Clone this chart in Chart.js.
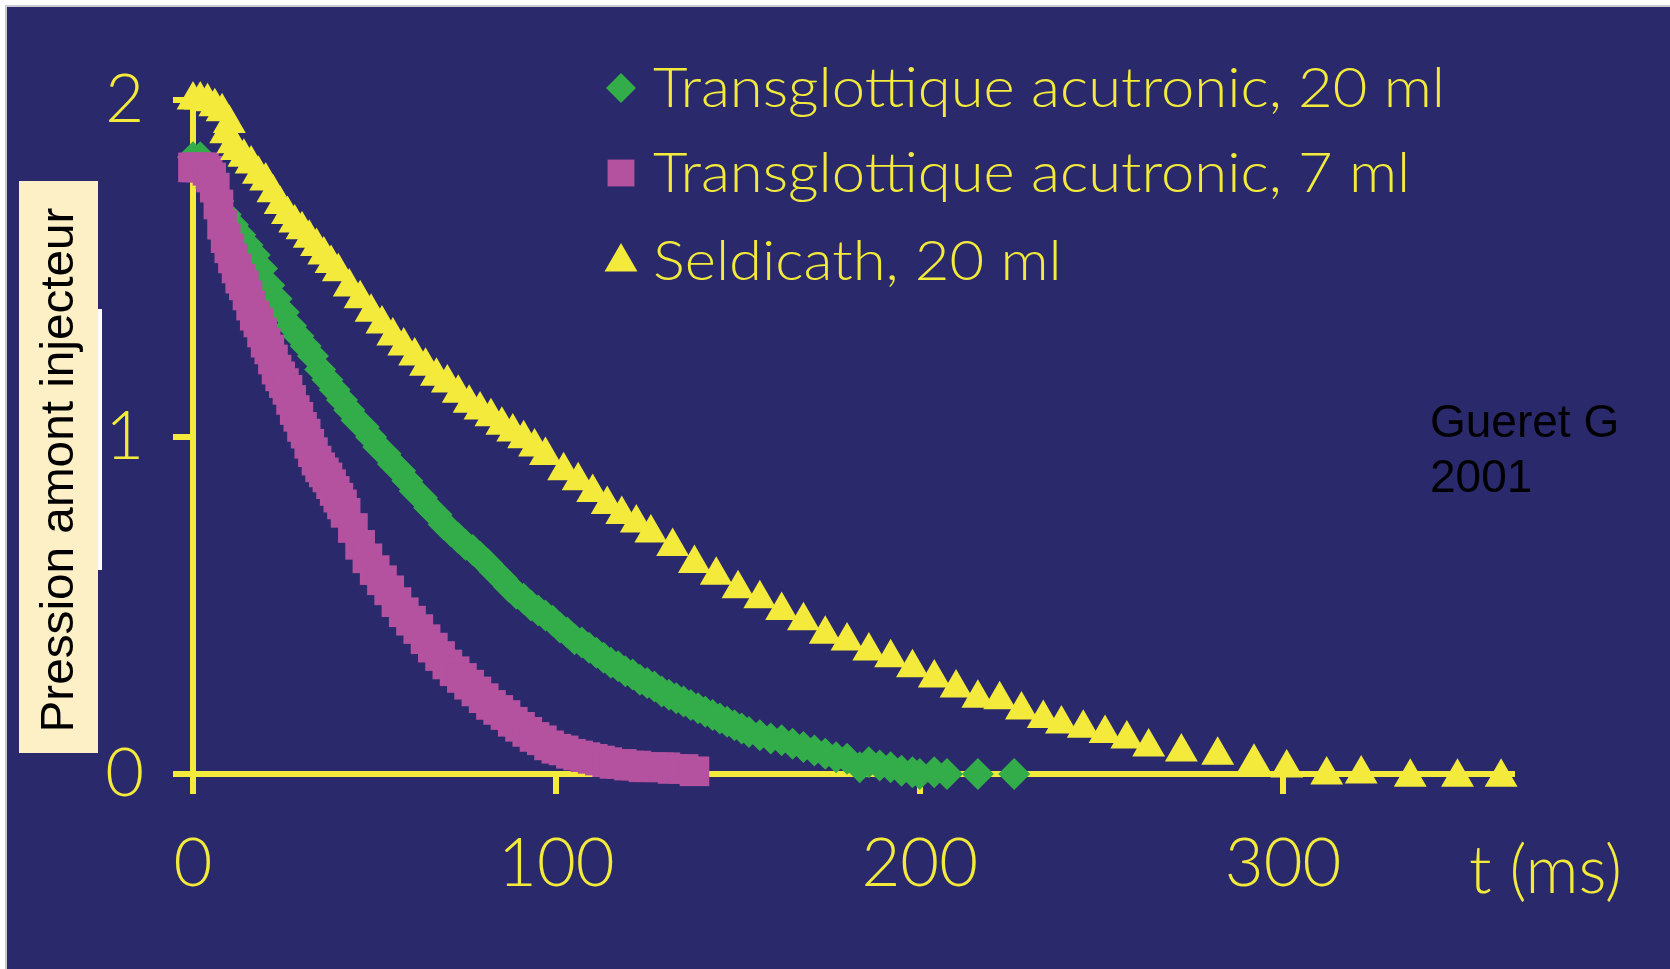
<!DOCTYPE html>
<html>
<head>
<meta charset="utf-8">
<title>Pression amont injecteur</title>
<script src="https://cdn.jsdelivr.net/npm/chart.js@4.4.1/dist/chart.umd.min.js"></script>
<style>
  html, body { margin: 0; padding: 0; background: #ffffff; }
  #wrap { width: 1670px; height: 969px; }
</style>
</head>
<body>
<div id="wrap"><canvas id="graph_pression" width="1670" height="969"></canvas></div>
<script>
// libellés des séries (légende)
const seriesLabels = ['Transglottique acutronic, 20 ml', 'Transglottique acutronic, 7 ml', 'Seldicath, 20 ml'];
const xTicks = [0, 100, 200, 300];
const yTicks = [0, 1, 2];

// Transglottique acutronic, 20 ml (losanges verts)
const tGreen = [0, 2, 4, 5, 7, 9, 11, 13, 15, 17, 19, 21, 23, 25, 27, 29, 31, 33, 35, 37, 39, 41, 43, 45,
  47, 49, 51, 53, 55, 57, 59, 61, 63, 65, 67, 69, 71, 73, 75, 77, 79, 81, 83, 85, 87, 89, 91, 93, 95, 97,
  99, 101, 103, 105, 107, 109, 111, 113, 115, 117, 119, 121, 123, 125, 127, 129, 131, 133, 135, 137, 139,
  141, 143, 145, 147, 149, 151, 153, 156, 159, 162, 165, 168, 171, 174, 177, 180, 183.5, 186, 189, 192,
  195, 198, 200, 204, 207.5, 216, 226];
const pGreen = [1.83, 1.83, 1.80, 1.74, 1.70, 1.66, 1.63, 1.60, 1.57, 1.54, 1.50, 1.45, 1.41, 1.37, 1.33,
  1.30, 1.27, 1.24, 1.20, 1.17, 1.14, 1.11, 1.08, 1.05, 1.03, 1.00, 0.97, 0.95, 0.92, 0.90, 0.87, 0.84,
  0.82, 0.79, 0.77, 0.74, 0.72, 0.70, 0.68, 0.665, 0.645, 0.625, 0.60, 0.58, 0.555, 0.535, 0.52, 0.50,
  0.485, 0.47, 0.455, 0.435, 0.42, 0.40, 0.39, 0.375, 0.36, 0.345, 0.33, 0.32, 0.305, 0.295, 0.28, 0.27,
  0.26, 0.245, 0.235, 0.225, 0.215, 0.205, 0.195, 0.185, 0.175, 0.165, 0.155, 0.145, 0.135, 0.125, 0.115,
  0.105, 0.10, 0.09, 0.08, 0.07, 0.06, 0.05, 0.045, 0.02, 0.035, 0.025, 0.02, 0.01, 0.005, 0.0, 0.005,
  0, 0, 0];

// Transglottique acutronic, 7 ml (carrés magenta)
const tMagenta = [0, 1, 2, 3, 4, 5, 6, 7, 8, 9, 10, 11, 12, 13, 14, 15, 16, 17, 18, 19, 20, 21, 22, 23, 24,
  25, 26, 27, 28, 29, 30, 31, 32, 33, 34, 35, 36, 37, 38, 39, 40, 41, 42, 44, 46, 48, 50, 52, 54, 56, 58,
  60, 62, 64, 66, 68, 70, 72, 74, 76, 78, 80, 82, 84, 86, 88, 90, 92, 94, 96, 98, 100, 102, 104, 106, 108,
  110, 112, 114, 116, 118, 120, 122, 124, 126, 128, 130, 132, 135, 138];
const pMagenta = [1.80, 1.80, 1.80, 1.80, 1.79, 1.77, 1.74, 1.69, 1.63, 1.59, 1.56, 1.53, 1.50, 1.47, 1.45,
  1.42, 1.39, 1.36, 1.34, 1.31, 1.28, 1.26, 1.23, 1.20, 1.18, 1.16, 1.14, 1.11, 1.08, 1.06, 1.03, 1.01,
  0.98, 0.955, 0.93, 0.91, 0.895, 0.88, 0.86, 0.84, 0.82, 0.80, 0.775, 0.73, 0.68, 0.64, 0.605, 0.575,
  0.545, 0.51, 0.48, 0.455, 0.43, 0.40, 0.375, 0.35, 0.325, 0.305, 0.285, 0.265, 0.245, 0.225, 0.205,
  0.19, 0.175, 0.155, 0.14, 0.125, 0.11, 0.10, 0.085, 0.075, 0.07, 0.06, 0.055, 0.05, 0.045, 0.04, 0.035,
  0.03, 0.03, 0.025, 0.025, 0.02, 0.02, 0.02, 0.02, 0.015, 0.015, 0.008];

// Seldicath, 20 ml (triangles jaunes)
const tYellow = [0, 2, 4, 6, 8, 9, 10, 11, 12, 14, 16, 18, 20, 22, 24, 26, 28, 30, 32, 34, 36, 38, 40, 43,
  46, 49, 52, 55, 58, 61, 64, 67, 70, 73, 76, 79, 82, 85, 88, 91, 94, 97, 102, 106, 110, 114, 118, 122,
  126, 132, 138, 144, 150, 156, 162, 168, 174, 180, 186, 192, 198, 204, 210, 216, 222, 228, 234, 239, 245,
  251, 257, 263, 272, 282, 292, 301, 312, 321.5, 335, 348, 360];
const pYellow = [2.00, 2.00, 1.995, 1.98, 1.965, 1.90, 1.93, 1.87, 1.85, 1.83, 1.81, 1.78, 1.76, 1.725,
  1.69, 1.66, 1.635, 1.615, 1.59, 1.565, 1.54, 1.515, 1.49, 1.445, 1.41, 1.37, 1.335, 1.30, 1.27, 1.24,
  1.21, 1.18, 1.16, 1.13, 1.10, 1.08, 1.06, 1.035, 1.015, 0.995, 0.97, 0.945, 0.90, 0.87, 0.835, 0.80,
  0.77, 0.745, 0.715, 0.675, 0.625, 0.59, 0.55, 0.52, 0.485, 0.455, 0.415, 0.395, 0.365, 0.345, 0.315,
  0.285, 0.255, 0.225, 0.22, 0.19, 0.165, 0.148, 0.136, 0.12, 0.104, 0.08, 0.065, 0.056, 0.035, 0.018,
  -0.003, 0.0, -0.01, -0.01, -0.01];

const NAVY = '#29296b';
const YELLOW = '#f3ea3b';
const GREEN = '#33ad49';
const MAGENTA = '#b4529f';

function pairs(ts, ps) {
  return ts.map(function (t, i) { return { x: t, y: ps[i] }; });
}

// fond bleu + cadre
const framePlugin = {
  id: 'frame',
  beforeDraw: function (chart) {
    const c = chart.ctx;
    c.save();
    c.fillStyle = '#ffffff';
    c.fillRect(0, 0, chart.width, chart.height);
    c.fillStyle = NAVY;
    c.fillRect(6, 6, chart.width - 6, chart.height - 6);
    c.strokeStyle = '#c9c9d3';
    c.lineWidth = 2;
    c.beginPath();
    c.moveTo(6, chart.height);
    c.lineTo(6, 6);
    c.lineTo(chart.width, 6);
    c.stroke();
    c.restore();
  }
};

// textes : titre axe y, légende, unité, auteur
const textPlugin = {
  id: 'texts',
  afterDraw: function (chart) {
    const c = chart.ctx;
    c.save();

    // encadré du titre vertical
    c.fillStyle = '#ffffff';
    c.fillRect(19, 309, 83, 261);
    c.fillStyle = '#fdf0c6';
    c.fillRect(19, 181, 79, 572);
    c.save();
    c.translate(73, 470);
    c.rotate(-Math.PI / 2);
    c.font = '46px "Liberation Sans", Arial, sans-serif';
    let w = c.measureText('Pression amont injecteur').width;
    c.scale(525 / w, 1);
    c.fillStyle = '#000000';
    c.textAlign = 'center';
    c.textBaseline = 'alphabetic';
    c.fillText('Pression amont injecteur', 0, 0);
    c.restore();

    // légende
    const rowsY = [88, 173, 262];
    const baseY = [107, 192, 280];
    c.font = '300 55px Lato, sans-serif';
    const sx = 792 / c.measureText(seriesLabels[0]).width;
    chart.data.datasets.forEach(function (ds, i) {
      c.fillStyle = ds.pointBackgroundColor;
      c.beginPath();
      Chart.helpers.drawPoint(c, {
        pointStyle: ds.pointStyle,
        radius: ds.legendRadius,
        rotation: 0,
        borderWidth: 0
      }, 621, rowsY[i]);
      c.save();
      c.translate(653, baseY[i]);
      c.scale(sx, 1);
      c.fillStyle = YELLOW;
      c.textAlign = 'left';
      c.textBaseline = 'alphabetic';
      c.fillText(ds.label, 0, 0);
      c.restore();
    });

    // unité de l'axe x
    c.save();
    c.font = '300 67px Lato, sans-serif';
    w = c.measureText('t (ms)').width;
    c.translate(1469, 893);
    c.scale(153 / w, 1);
    c.fillStyle = YELLOW;
    c.textAlign = 'left';
    c.fillText('t (ms)', 0, 0);
    c.restore();

    // auteur
    c.font = '46px "Liberation Sans", Arial, sans-serif';
    c.fillStyle = '#000000';
    c.textAlign = 'left';
    c.fillText('Gueret G', 1430, 437);
    c.fillText('2001', 1430, 492);

    c.restore();
  }
};

const ctx = document.getElementById('graph_pression');
const chart = new Chart(ctx, {
  type: 'scatter',
  data: {
    datasets: [
      {
        label: seriesLabels[0],
        data: pairs(tGreen, pGreen),
        pointStyle: 'rectRot',
        pointRadius: 16,
        legendRadius: 15,
        pointBackgroundColor: GREEN,
        pointBorderWidth: 0,
        order: 2,
        clip: false
      },
      {
        label: seriesLabels[1],
        data: pairs(tMagenta, pMagenta),
        pointStyle: 'rect',
        pointRadius: 21,
        legendRadius: 19,
        pointBackgroundColor: MAGENTA,
        pointBorderWidth: 0,
        order: 1,
        clip: false
      },
      {
        label: seriesLabels[2],
        data: pairs(tYellow, pYellow),
        pointStyle: 'triangle',
        pointRadius: 19,
        legendRadius: 19,
        pointBackgroundColor: YELLOW,
        pointBorderWidth: 0,
        order: 0,
        clip: false
      }
    ]
  },
  options: {
    responsive: false,
    animation: false,
    devicePixelRatio: 1,
    layout: { padding: { left: 0, top: 100, right: 158, bottom: 0 } },
    plugins: {
      legend: { display: false },
      tooltip: { enabled: false }
    },
    scales: {
      x: {
        type: 'linear',
        min: 0,
        max: 363,
        afterFit: function (scale) { scale.height = 195; },
        afterBuildTicks: function (scale) { scale.ticks = xTicks.map(function (v) { return { value: v }; }); },
        border: { color: YELLOW, width: 6 },
        grid: { drawOnChartArea: false, color: YELLOW, lineWidth: 6, tickLength: 20 },
        ticks: {
          color: YELLOW,
          padding: 30,
          maxRotation: 0,
          autoSkip: false,
          font: { family: 'Lato', size: 67, weight: '300' }
        }
      },
      y: {
        type: 'linear',
        min: 0,
        max: 2,
        afterFit: function (scale) { scale.width = 193; },
        afterBuildTicks: function (scale) { scale.ticks = yTicks.map(function (v) { return { value: v }; }); },
        border: { color: YELLOW, width: 6 },
        grid: { drawOnChartArea: false, color: YELLOW, lineWidth: 6, tickLength: 20 },
        ticks: {
          color: YELLOW,
          padding: 29,
          autoSkip: false,
          font: { family: 'Lato', size: 67, weight: '300' }
        }
      }
    }
  },
  plugins: [framePlugin, textPlugin]
});
</script>
</body>
</html>
